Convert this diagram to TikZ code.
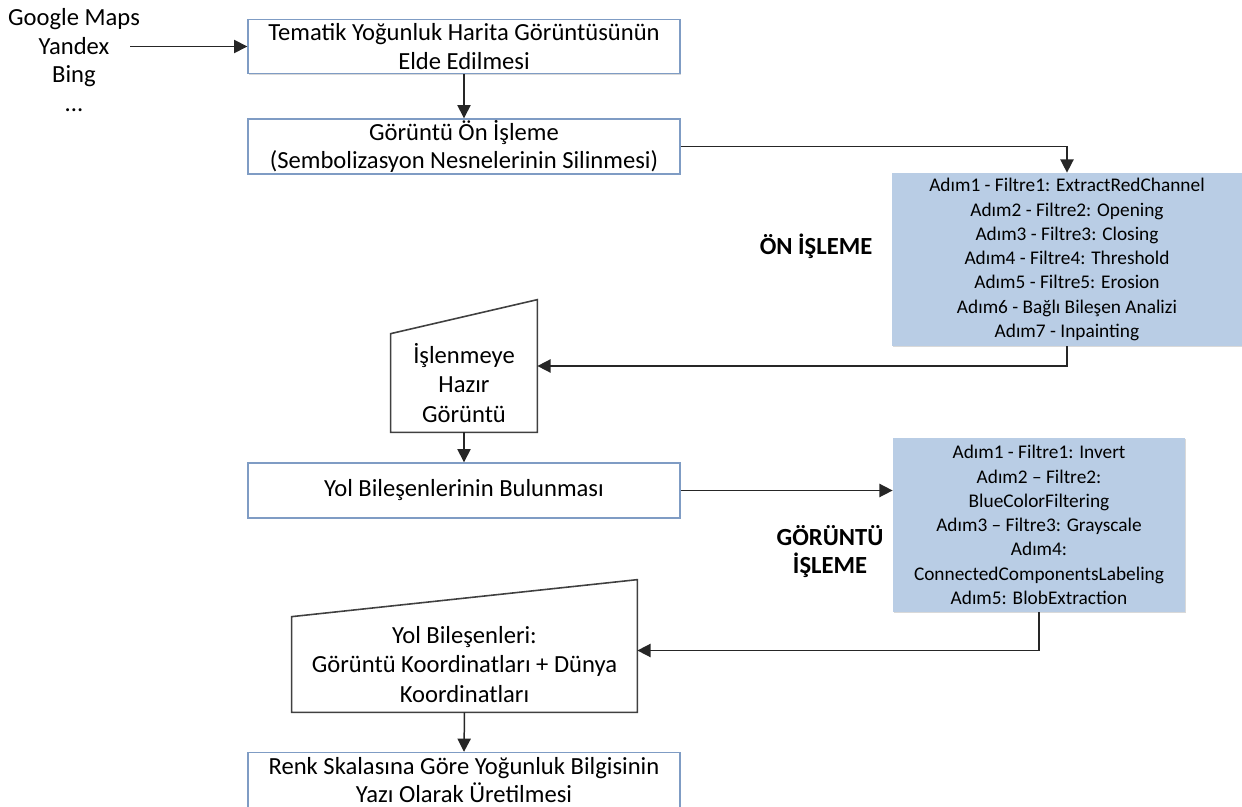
\documentclass[tikz,border=0pt]{standalone}
\usepackage{fontspec}
\setmainfont{Carlito}
\usepackage{tikz}
\usetikzlibrary{arrows.meta}
\usetikzlibrary{calc, shadows}
\definecolor{boxline}{HTML}{7F9CC4}
\definecolor{stepfill}{HTML}{B9CDE5}
\definecolor{trapline}{HTML}{404040}

\tikzset{
  anakutu/.style={draw=boxline, line width=0.8pt, fill=white, minimum width=8.64cm,
    minimum height=1.08cm, align=center, inner sep=0pt,
    font=\fontsize{14}{16.4}\selectfont,
    drop shadow={shadow xshift=0.7pt, shadow yshift=-0.7pt, opacity=0.3}},
  adimkutu/.style={fill=stepfill, align=center, inner sep=0pt,
    font=\fontsize{11}{13.8}\selectfont,
    drop shadow={shadow xshift=0.7pt, shadow yshift=-0.7pt, opacity=0.3}},
  yamuk/.style={align=center, inner sep=0pt, font=\fontsize{14}{17}\selectfont},
  kaynak/.style={align=center, inner sep=0pt, font=\fontsize{14}{16.4}\selectfont},
  baslik/.style={align=center, inner sep=0pt, font=\fontsize{14}{16.4}\selectfont\bfseries},
  ok/.style={-{Triangle[length=7.5pt,width=7.5pt]}, line width=0.85pt, draw=black!85}
}

\begin{document}
\begin{tikzpicture}
    \useasboundingbox (0,0) rectangle (24.84,-16.14);

    % Kaynaklar
    \node[kaynak] (kaynak) at (1.48, -1.2) {Google Maps\\Yandex\\Bing\\...};
    \coordinate (kaynakok) at (2.6, -0.93);

    % Ana akis kutulari
    \node[anakutu] (elde) at (9.28, -0.93) {Tematik Yoğunluk Harita Görüntüsünün\\Elde Edilmesi};
    \node[anakutu, minimum height=1.1cm] (onisleme) at (9.28, -2.93) {Görüntü Ön İşleme\\(Sembolizasyon Nesnelerinin Silinmesi)};
    \node[anakutu, minimum height=1.1cm] (bulma) at (9.28, -9.81) {Yol Bileşenlerinin Bulunması};
    \node[anakutu, minimum height=1.1cm] (uretim) at (9.28, -15.6) {Renk Skalasına Göre Yoğunluk Bilgisinin\\Yazı Olarak Üretilmesi};

    % Adim kutulari
    \node[adimkutu, minimum width=7.0cm, minimum height=3.46cm] (adim1) at (21.34, -5.19)
      {Adım1 - Filtre1: ExtractRedChannel\\Adım2 - Filtre2: Opening\\Adım3 - Filtre3: Closing\\Adım4 - Filtre4: Threshold\\Adım5 - Filtre5: Erosion\\Adım6 - Bağlı Bileşen Analizi\\Adım7 - Inpainting};
    \node[adimkutu, minimum width=5.84cm, minimum height=3.48cm] (adim2) at (20.78, -10.5)
      {Adım1 - Filtre1: Invert\\Adım2 – Filtre2:\\BlueColorFiltering\\Adım3 – Filtre3: Grayscale\\Adım4:\\ConnectedComponentsLabeling\\Adım5: BlobExtraction};

    % Basliklar
    \node[baslik] (onbaslik) at (16.32, -4.92) {ÖN İŞLEME};
    \node[baslik] (goruntubaslik) at (16.6, -11.03) {GÖRÜNTÜ\\İŞLEME};

    % Yamuklar (el ile giris)
    \node[yamuk, minimum width=2.92cm, minimum height=1.96cm] (hazir) at (9.28, -7.66) {İşlenmeye\\Hazır\\Görüntü};
    \draw[trapline, line width=0.9pt, fill=white] (hazir.north west) -- ($(hazir.north east)+(0,0.68)$)
      -- (hazir.south east) -- (hazir.south west) -- cycle;
    \node[yamuk] at (hazir.center) {İşlenmeye\\Hazır\\Görüntü};

    \node[yamuk, minimum width=6.9cm, minimum height=1.9cm] (yol) at (9.29, -13.29) {Yol Bileşenleri:\\Görüntü Koordinatları + Dünya\\Koordinatları};
    \draw[trapline, line width=0.9pt, fill=white] (yol.north west) -- ($(yol.north east)+(0,0.74)$)
      -- (yol.south east) -- (yol.south west) -- cycle;
    \node[yamuk] at (yol.center) {Yol Bileşenleri:\\Görüntü Koordinatları + Dünya\\Koordinatları};

    % Oklar
    \draw[ok] (kaynakok) -- (kaynakok -| elde.west);
    \draw[ok] (elde.south) -- (onisleme.north);
    \draw[ok] (onisleme.east) -| (adim1.north);
    \draw[ok] (adim1.south) |- ([yshift=0.34cm]hazir.east);
    \draw[ok] (hazir.south) -- (bulma.north);
    \draw[ok] (bulma.east) -- (bulma.east -| adim2.west);
    \draw[ok] (adim2.south) |- ([yshift=0.28cm]yol.east);
    \draw[ok] (yol.south) -- (uretim.north);
\end{tikzpicture}
\end{document}
